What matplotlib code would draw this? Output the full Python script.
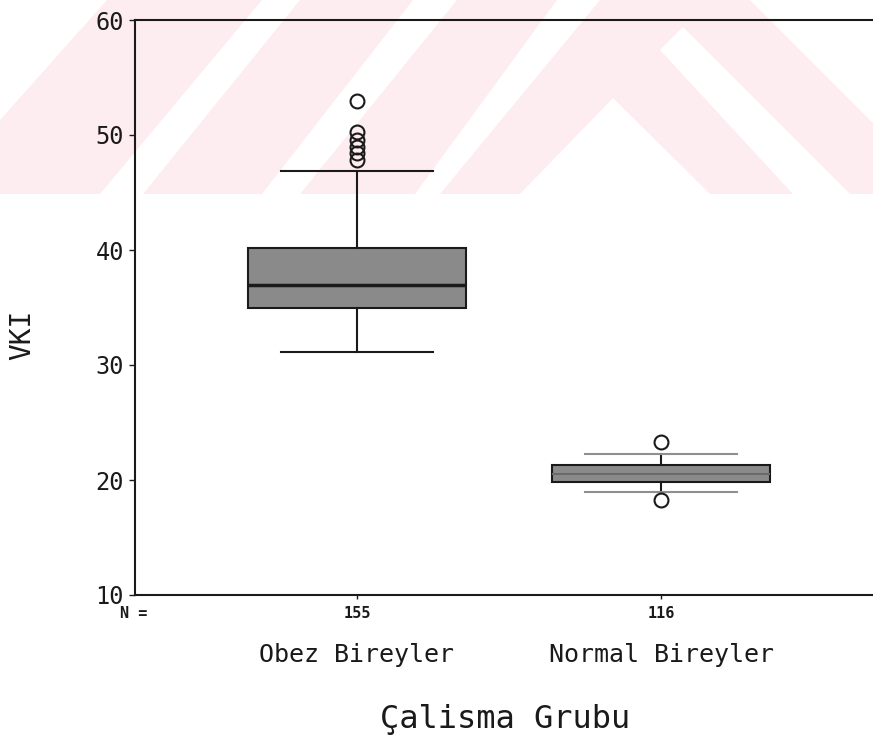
import matplotlib
matplotlib.use('Agg')
import matplotlib.pyplot as plt
from matplotlib.patches import Polygon, Rectangle

## data
groups = ['Obez Bireyler', 'Normal Bireyler']
n_counts = [155, 116]
q1 = [35.0, 19.8]
medians = [37.0, 20.5]
q3 = [40.2, 21.3]
whisker_low = [31.1, 19.0]
whisker_high = [46.9, 22.3]
outliers = [[53.0, 50.3, 49.6, 49.0, 48.4, 47.8], [23.3, 18.3]]
yticks = [10, 20, 30, 40, 50, 60]

plt.rcParams['font.family'] = ['DejaVu Sans Mono']
ink = '#1a1a1a'

W, H = 873, 741
fig = plt.figure(figsize=(W / 100, H / 100), dpi=100)

def px(pts):
    return [(x / W, 1 - y / H) for x, y in pts]

## pink watermark band at the top of the scan
pink = '#fdedf0'
fig.add_artist(Rectangle((0, 1 - 194 / H), 1, 194 / H, transform=fig.transFigure,
                         facecolor=pink, edgecolor='none', zorder=-3))
gaps = [
    [(0, 0), (107, 0), (0, 120)],
    [(100, 194), (143, 194), (300, 0), (262, 0)],
    [(262, 194), (300, 194), (457, 0), (413, 0)],
    [(415, 194), (440, 194), (600, 0), (557, 0)],
    [(520, 194), (613, 98), (710, 194)],
    [(660, 50), (683, 27), (850, 194), (793, 194)],
    [(750, 0), (873, 0), (873, 123)],
]
for g in gaps:
    fig.add_artist(Polygon(px(g), closed=True, transform=fig.transFigure,
                           facecolor='white', edgecolor='none', zorder=-2))

## axes (right side is cut off in the scan)
ax = fig.add_axes([135 / W, 1 - 595 / H, (883 - 135) / W, (595 - 20) / H])
ax.set_facecolor('none')

stats = []
for i in range(len(groups)):
    stats.append(dict(med=medians[i], q1=q1[i], q3=q3[i],
                      whislo=whisker_low[i], whishi=whisker_high[i],
                      fliers=outliers[i]))

bp = ax.bxp(stats, positions=[1, 2], widths=0.72, capwidths=0.5, patch_artist=True,
            boxprops=dict(facecolor='#8a8a8a', edgecolor=ink, linewidth=1.5),
            medianprops=dict(color=ink, linewidth=2.5),
            whiskerprops=dict(color=ink, linewidth=1.5),
            capprops=dict(color=ink, linewidth=1.5),
            flierprops=dict(marker='o', markersize=10, markerfacecolor='none',
                            markeredgecolor=ink, markeredgewidth=1.5))
# caps of the second group look lighter in the scan, median hardly shows
for c in bp['caps'][2:]:
    c.set_color('#8f8f8f')
bp['medians'][1].set_color('#6a6a6a')
bp['medians'][1].set_linewidth(1.5)

ax.set_xlim(0.27, 2.73)
ax.set_ylim(10, 60)
ax.set_yticks(yticks)
ax.set_xticks([1, 2])
ax.set_xticklabels([])
ax.tick_params(axis='y', length=4, width=1, pad=4, labelsize=17, colors=ink)
ax.tick_params(axis='x', length=3, width=1, colors=ink)
for s in ax.spines.values():
    s.set_color(ink)
    s.set_linewidth(1.5)

## N counts and group names under the axis
ax.text(-0.02, -0.033, 'N =', transform=ax.transAxes, fontsize=11,
        fontweight='bold', ha='left', va='center', color=ink)
for i in range(len(groups)):
    ax.text(i + 1, -0.033, str(n_counts[i]), transform=ax.get_xaxis_transform(),
            fontsize=11, fontweight='bold', ha='center', va='center', color=ink)
    ax.text(i + 1, -0.104, groups[i], transform=ax.get_xaxis_transform(),
            fontsize=18, ha='center', va='center', color=ink)

ax.set_xlabel('Çalisma Grubu', fontsize=23, color=ink, va='center')
ax.xaxis.set_label_coords(0.495, -0.217)
ax.set_ylabel('VKI', fontsize=20, color=ink, va='center')
ax.yaxis.set_label_coords(-0.151, 0.452)

plt.savefig('out.png', dpi=100)
